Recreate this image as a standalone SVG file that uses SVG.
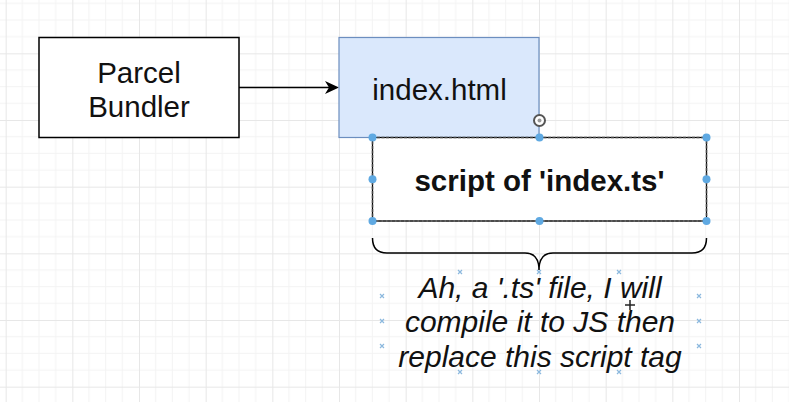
<svg xmlns="http://www.w3.org/2000/svg" width="789" height="402" viewBox="0 0 789 402">
  <style>
    .lbl { font-family: "Liberation Sans", Arial, sans-serif; fill: #111; text-anchor: middle; }
    .n { font-size: 29.5px; }
    .b { font-size: 29.5px; font-weight: bold; }
    .i { font-size: 30px; font-style: italic; }
    .handle { fill: #5fa9e2; }
    .xm { stroke: #8bb8de; stroke-width: 1.2; }
  </style>
  <defs>
    <pattern id="grid" patternUnits="userSpaceOnUse" x="5.67" y="-13.33" width="66.667" height="66.667">
      <path d="M16.667 0V66.667M33.333 0V66.667M50 0V66.667M0 16.667H66.667M0 33.333H66.667M0 50H66.667" stroke="#f3f3f3" stroke-width="1" fill="none"/>
      <path d="M0.5 0V66.667M0 0.5H66.667" stroke="#e7e7e7" stroke-width="1" fill="none"/>
    </pattern>
  </defs>
  <rect x="0" y="0" width="789" height="402" fill="#ffffff"/>
  <rect x="0" y="0" width="789" height="402" fill="url(#grid)"/>

  <g id="connectors">
    <line x1="239" y1="87.5" x2="330" y2="87.5" stroke="#000" stroke-width="1.5"/>
    <path d="M339 87.5 L325 81 L329 87.5 L325 94 Z" fill="#000"/>
    <path d="M372.5 238 Q372.5 253 387 253 L525 253 Q539 253 539 270 Q539 253 553 253 L692 253 Q706.5 253 706.5 238" fill="none" stroke="#000" stroke-width="1.5"/>
  </g>

  <g id="parcel-bundler">
    <rect x="39" y="37.5" width="200" height="100" fill="#ffffff" stroke="#000" stroke-width="1.5"/>
    <text class="lbl n" x="139" y="83">Parcel</text>
    <text class="lbl n" x="139" y="117">Bundler</text>
  </g>

  <g id="index-html">
    <rect x="339" y="37.5" width="200" height="100" fill="#dae8fc" stroke="#6c8ebf" stroke-width="1.2"/>
    <text class="lbl n" x="439.5" y="99.5">index.html</text>
  </g>

  <g id="script-of-index-ts">
    <rect x="372.5" y="137.5" width="334" height="83.5" fill="#ffffff" stroke="#000" stroke-width="1.2"/>
    <rect x="372.5" y="137.5" width="334" height="83.5" fill="none" stroke="#444" stroke-width="1.5" stroke-dasharray="3 1.5"/>
    <text class="lbl b" x="539.5" y="190.5">script of 'index.ts'</text>
    <g id="selection-handles">
      <circle class="handle" cx="372.5" cy="137.5" r="4"/>
      <circle class="handle" cx="539.5" cy="137.5" r="4"/>
      <circle class="handle" cx="706.5" cy="137.5" r="4"/>
      <circle class="handle" cx="372.5" cy="179.3" r="4"/>
      <circle class="handle" cx="706.5" cy="179.3" r="4"/>
      <circle class="handle" cx="372.5" cy="221" r="4"/>
      <circle class="handle" cx="539.5" cy="221" r="4"/>
      <circle class="handle" cx="706.5" cy="221" r="4"/>
    </g>
    <g id="rotate-handle">
      <circle cx="539.5" cy="120.5" r="5.5" fill="#fff" stroke="#555" stroke-width="2"/>
      <circle cx="539.5" cy="120.5" r="2" fill="#999"/>
    </g>
  </g>

  <g id="note">
    <text class="lbl i" x="540" y="298">Ah, a '.ts' file, I will</text>
    <text class="lbl i" x="540" y="332">compile it to JS then</text>
    <text class="lbl i" x="540" y="366.5">replace this script tag</text>
    <g id="note-markers" class="xm">
      <path d="M458 270l4 4M462 270l-4 4"/>
      <path d="M537 270l4 4M541 270l-4 4"/>
      <path d="M617 270l4 4M621 270l-4 4"/>
      <path d="M380 294l4 4M384 294l-4 4"/>
      <path d="M380 319l4 4M384 319l-4 4"/>
      <path d="M380 344l4 4M384 344l-4 4"/>
      <path d="M697 294l4 4M701 294l-4 4"/>
      <path d="M697 319l4 4M701 319l-4 4"/>
      <path d="M697 344l4 4M701 344l-4 4"/>
      <path d="M458 370l4 4M462 370l-4 4"/>
      <path d="M537 370l4 4M541 370l-4 4"/>
      <path d="M617 370l4 4M621 370l-4 4"/>
    </g>
    <path d="M630 300V310M625 305H635" stroke="#222" stroke-width="1.5"/>
  </g>
</svg>
